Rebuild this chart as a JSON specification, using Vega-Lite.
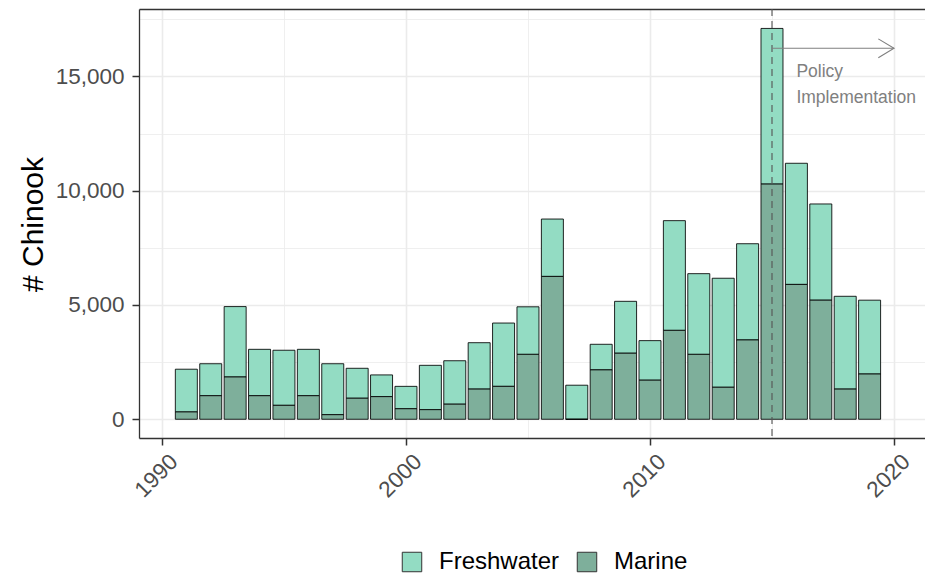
{
  "$schema": "https://vega.github.io/schema/vega-lite/v6.json",
  "width": 786,
  "height": 429,
  "autosize": {"type": "none"},
  "padding": {"left": 139, "top": 9, "right": 0, "bottom": 137},
  "background": "white",
  "config": {
    "view": {"stroke": null},
    "font": "Liberation Sans",
    "axis": {
      "domainColor": "#333333",
      "domainWidth": 1.3,
      "tickColor": "#333333",
      "tickWidth": 1.5,
      "tickSize": 7,
      "labelColor": "#4d4d4d",
      "labelFontSize": 22.5,
      "labelFont": "Liberation Sans",
      "labelOverlap": false,
      "labelFlush": false,
      "labelBound": false,
      "gridColor": "#ebebeb"
    }
  },
  "datasets": {
    "catch": [
      {"year": 1991, "source": "Freshwater", "count": 1870}, {"year": 1991, "source": "Marine", "count": 320},
      {"year": 1992, "source": "Freshwater", "count": 1400}, {"year": 1992, "source": "Marine", "count": 1030},
      {"year": 1993, "source": "Freshwater", "count": 3080}, {"year": 1993, "source": "Marine", "count": 1850},
      {"year": 1994, "source": "Freshwater", "count": 2030}, {"year": 1994, "source": "Marine", "count": 1030},
      {"year": 1995, "source": "Freshwater", "count": 2410}, {"year": 1995, "source": "Marine", "count": 610},
      {"year": 1996, "source": "Freshwater", "count": 2030}, {"year": 1996, "source": "Marine", "count": 1030},
      {"year": 1997, "source": "Freshwater", "count": 2230}, {"year": 1997, "source": "Marine", "count": 200},
      {"year": 1998, "source": "Freshwater", "count": 1310}, {"year": 1998, "source": "Marine", "count": 920},
      {"year": 1999, "source": "Freshwater", "count": 950}, {"year": 1999, "source": "Marine", "count": 990},
      {"year": 2000, "source": "Freshwater", "count": 980}, {"year": 2000, "source": "Marine", "count": 460},
      {"year": 2001, "source": "Freshwater", "count": 1940}, {"year": 2001, "source": "Marine", "count": 420},
      {"year": 2002, "source": "Freshwater", "count": 1900}, {"year": 2002, "source": "Marine", "count": 660},
      {"year": 2003, "source": "Freshwater", "count": 2030}, {"year": 2003, "source": "Marine", "count": 1320},
      {"year": 2004, "source": "Freshwater", "count": 2770}, {"year": 2004, "source": "Marine", "count": 1440},
      {"year": 2005, "source": "Freshwater", "count": 2080}, {"year": 2005, "source": "Marine", "count": 2840},
      {"year": 2006, "source": "Freshwater", "count": 2510}, {"year": 2006, "source": "Marine", "count": 6250},
      {"year": 2007, "source": "Freshwater", "count": 1490}, {"year": 2007, "source": "Marine", "count": 0},
      {"year": 2008, "source": "Freshwater", "count": 1120}, {"year": 2008, "source": "Marine", "count": 2160},
      {"year": 2009, "source": "Freshwater", "count": 2270}, {"year": 2009, "source": "Marine", "count": 2890},
      {"year": 2010, "source": "Freshwater", "count": 1730}, {"year": 2010, "source": "Marine", "count": 1710},
      {"year": 2011, "source": "Freshwater", "count": 4800}, {"year": 2011, "source": "Marine", "count": 3890},
      {"year": 2012, "source": "Freshwater", "count": 3530}, {"year": 2012, "source": "Marine", "count": 2840},
      {"year": 2013, "source": "Freshwater", "count": 4770}, {"year": 2013, "source": "Marine", "count": 1400},
      {"year": 2014, "source": "Freshwater", "count": 4210}, {"year": 2014, "source": "Marine", "count": 3470},
      {"year": 2015, "source": "Freshwater", "count": 6810}, {"year": 2015, "source": "Marine", "count": 10290},
      {"year": 2016, "source": "Freshwater", "count": 5300}, {"year": 2016, "source": "Marine", "count": 5900},
      {"year": 2017, "source": "Freshwater", "count": 4210}, {"year": 2017, "source": "Marine", "count": 5210},
      {"year": 2018, "source": "Freshwater", "count": 4060}, {"year": 2018, "source": "Marine", "count": 1320},
      {"year": 2019, "source": "Freshwater", "count": 3230}, {"year": 2019, "source": "Marine", "count": 1980}
    ],
    "policy": [{"year": 2015, "end": 2020, "count": 16230}],
    "arrowhead": [{"year": 2020, "count": 16230}],
    "label": [{"year": 2016, "count": 15190}]
  },
  "layer": [
    {
      "data": {"name": "catch"},
      "mark": {"type": "bar", "size": 22, "stroke": "#000000", "strokeWidth": 1, "strokeOpacity": 0.85},
      "encoding": {
        "x": {
          "field": "year", "type": "quantitative",
          "scale": {"domain": [1989.06, 2021.27], "nice": false, "zero": false, "padding": 0},
          "axis": {
            "title": null,
            "values": [1990, 1995, 2000, 2005, 2010, 2015, 2020],
            "labelExpr": "datum.value % 10 === 0 ? datum.value + '' : ''",
            "labelAngle": -45,
            "labelAlign": "right",
            "labelBaseline": "top",
            "labelPadding": 5,
            "labelOffset": 4,
            "tickOpacity": {"condition": {"test": "datum.value % 10 === 0", "value": 1}, "value": 0},
            "gridWidth": {"condition": {"test": "datum.value % 10 === 0", "value": 1.6}, "value": 0.8}
          }
        },
        "y": {
          "field": "count", "type": "quantitative", "stack": "zero",
          "scale": {"domain": [-820, 17950], "nice": false, "zero": false, "padding": 0},
          "axis": {
            "title": "# Chinook",
            "titleFontSize": 30,
            "titleFont": "Liberation Sans",
            "titleFontWeight": "normal",
            "titleColor": "#000000",
            "titleAngle": -90,
            "titleBaseline": "alphabetic",
            "titleAlign": "center",
            "titleX": -97,
            "titleY": 215,
            "values": [0, 2500, 5000, 7500, 10000, 12500, 15000, 17500, 17950],
            "labelExpr": "datum.value % 5000 === 0 ? format(datum.value, ',') : ''",
            "labelPadding": 8,
            "tickOpacity": {"condition": {"test": "datum.value % 5000 === 0", "value": 1}, "value": 0},
            "gridColor": {"condition": {"test": "datum.value > 17900", "value": "#333333"}, "value": "#ebebeb"},
            "gridWidth": {"condition": [{"test": "datum.value > 17900", "value": 1.3}, {"test": "datum.value % 5000 === 0", "value": 1.6}], "value": 0.8}
          }
        },
        "color": {
          "field": "source", "type": "nominal",
          "scale": {"domain": ["Freshwater", "Marine"], "range": ["#93dcc3", "#7eaf9b"]},
          "legend": {
            "title": null,
            "orient": "none",
            "direction": "horizontal",
            "legendX": 261,
            "legendY": 541,
            "symbolType": "square",
            "symbolSize": 380,
            "symbolStrokeColor": "#333333",
            "symbolStrokeWidth": 1,
            "symbolOpacity": 1,
            "labelFontSize": 24,
            "labelFont": "Liberation Sans",
            "labelColor": "#000000",
            "labelOffset": 15,
            "columnPadding": 15
          }
        },
        "order": {"field": "source", "sort": "descending"}
      }
    },
    {
      "data": {"name": "policy"},
      "mark": {"type": "rule", "color": "#555555", "strokeWidth": 1.5, "strokeDash": [7, 5], "opacity": 0.75},
      "encoding": {
        "x": {"field": "year", "type": "quantitative", "scale": {"domain": [1989.06, 2021.27], "nice": false, "zero": false, "padding": 0}}
      }
    },
    {
      "data": {"name": "policy"},
      "mark": {"type": "rule", "color": "#7f7f7f", "strokeWidth": 1.1},
      "encoding": {
        "x": {"field": "year", "type": "quantitative", "scale": {"domain": [1989.06, 2021.27], "nice": false, "zero": false, "padding": 0}},
        "x2": {"field": "end"},
        "y": {"field": "count", "type": "quantitative", "scale": {"domain": [-820, 17950], "nice": false, "zero": false, "padding": 0}}
      }
    },
    {
      "data": {"name": "arrowhead"},
      "mark": {"type": "point", "shape": "M-1,-0.6L0,0L-1,0.6", "filled": false, "stroke": "#7f7f7f", "strokeWidth": 1.1, "size": 986, "opacity": 1},
      "encoding": {
        "x": {"field": "year", "type": "quantitative", "scale": {"domain": [1989.06, 2021.27], "nice": false, "zero": false, "padding": 0}},
        "y": {"field": "count", "type": "quantitative", "scale": {"domain": [-820, 17950], "nice": false, "zero": false, "padding": 0}}
      }
    },
    {
      "data": {"name": "label"},
      "mark": {"type": "text", "text": ["Policy", "Implementation"], "align": "left", "baseline": "middle", "fontSize": 17.5, "lineHeight": 25.5, "color": "#808080", "font": "Liberation Sans"},
      "encoding": {
        "x": {"field": "year", "type": "quantitative", "scale": {"domain": [1989.06, 2021.27], "nice": false, "zero": false, "padding": 0}},
        "y": {"field": "count", "type": "quantitative", "scale": {"domain": [-820, 17950], "nice": false, "zero": false, "padding": 0}}
      }
    }
  ]
}
